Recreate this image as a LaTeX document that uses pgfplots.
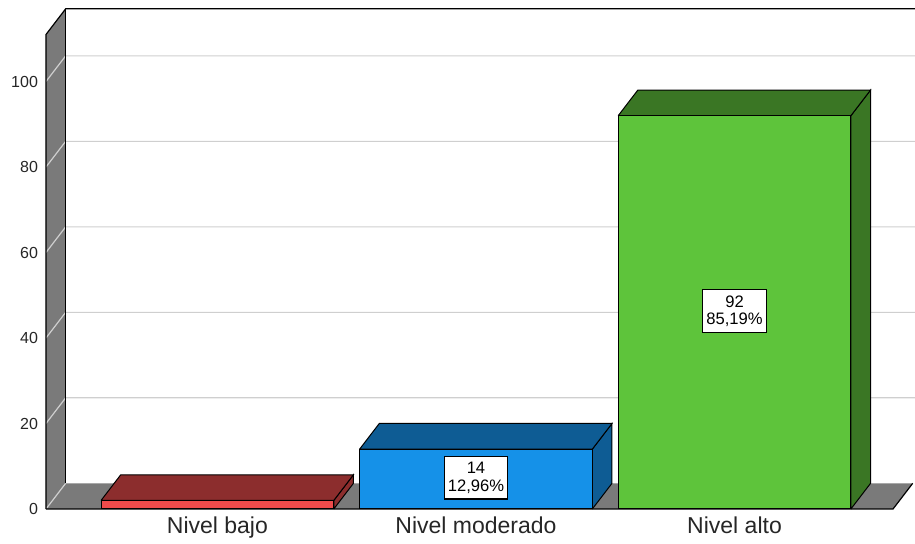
\documentclass[border=0pt]{standalone}
\usepackage{fontspec}
\setmainfont{Liberation Sans}
\usepackage{pgfplots}
\pgfplotsset{compat=1.18}
\definecolor{wallgray}{HTML}{7A7A7A}
\definecolor{gridc}{HTML}{CFCFCF}
\definecolor{redF}{HTML}{EF4B4B}
\definecolor{redD}{HTML}{8C2D2D}
\definecolor{blueF}{HTML}{1591E8}
\definecolor{blueD}{HTML}{0E5C94}
\definecolor{greenF}{HTML}{5EC43B}
\definecolor{greenD}{HTML}{3A7624}
\begin{document}
\begin{tikzpicture}
\begin{axis}[
  scale only axis, width=434.5pt, height=250.5pt,
  xmin=-0.663, xmax=2.698, ymin=0, ymax=117.2,
  clip=false,
  axis line style={draw=none},
  major tick length=0pt,
  xtick={0,1,2}, xticklabels={Nivel bajo, Nivel moderado, Nivel alto},
  ytick={0,20,40,60,80,100},
  /pgf/number format/assume math mode=true,
  yticklabel style={font=\fontsize{8}{9}\selectfont, text=black!85, xshift=-0.5pt},
  xticklabel style={font=\fontsize{11.5}{13}\selectfont, text=black!85, yshift=-0.5pt},
]
\coordinate (O) at (axis cs:-0.663,0);
% left wall and floor
\addplot[fill=wallgray, draw=none] coordinates {(-0.663,0) (-0.663,111) (-0.587,117) (-0.587,6)};
\addplot[fill=wallgray, draw=none] coordinates {(-0.663,0) (2.613,0) (2.689,6) (-0.587,6)};
% grid lines
\addplot[gridc, line width=0.6pt] coordinates {(-0.663,0) (-0.587,6)};
\addplot[gridc, line width=0.6pt] coordinates {(-0.663,20) (-0.587,26) (2.698,26)};
\addplot[gridc, line width=0.6pt] coordinates {(-0.663,40) (-0.587,46) (2.698,46)};
\addplot[gridc, line width=0.6pt] coordinates {(-0.663,60) (-0.587,66) (2.698,66)};
\addplot[gridc, line width=0.6pt] coordinates {(-0.663,80) (-0.587,86) (2.698,86)};
\addplot[gridc, line width=0.6pt] coordinates {(-0.663,100) (-0.587,106) (2.698,106)};
% wall edges
\addplot[black, line width=0.6pt] coordinates {(-0.663,0) (-0.663,111) (-0.587,117) (2.698,117)};
\addplot[black, line width=0.6pt] coordinates {(-0.587,6) (-0.587,117)};
\addplot[black, line width=0.6pt] coordinates {(-0.663,0) (2.613,0) (2.689,6)};
% Nivel bajo (2)
\addplot[fill=redD, draw=black, line width=0.5pt] coordinates {(0.45,0) (0.526,6) (0.526,8) (0.45,2) (0.45,0)};
\addplot[fill=redD, draw=black, line width=0.5pt] coordinates {(-0.45,2) (0.45,2) (0.526,8) (-0.374,8) (-0.45,2)};
\addplot[ybar, bar width=0.9, bar shift=0pt, fill=redF, draw=black, line width=0.5pt] coordinates {(0,2)};
% Nivel moderado (14)
\addplot[fill=blueD, draw=black, line width=0.5pt] coordinates {(1.45,0) (1.526,6) (1.526,20) (1.45,14) (1.45,0)};
\addplot[fill=blueD, draw=black, line width=0.5pt] coordinates {(0.55,14) (1.45,14) (1.526,20) (0.626,20) (0.55,14)};
\addplot[ybar, bar width=0.9, bar shift=0pt, fill=blueF, draw=black, line width=0.5pt] coordinates {(1,14)};
% Nivel alto (92)
\addplot[fill=greenD, draw=black, line width=0.5pt] coordinates {(2.45,0) (2.526,6) (2.526,98) (2.45,92) (2.45,0)};
\addplot[fill=greenD, draw=black, line width=0.5pt] coordinates {(1.55,92) (2.45,92) (2.526,98) (1.626,98) (1.55,92)};
\addplot[ybar, bar width=0.9, bar shift=0pt, fill=greenF, draw=black, line width=0.5pt] coordinates {(2,92)};
% labels
\node[fill=white, draw=black, line width=0.6pt, align=center, inner xsep=1.8pt, inner ysep=2.8pt, font=\fontsize{8.3}{8.8}\selectfont] at (axis cs:1,7.3) {14\\12,96\%};
\node[fill=white, draw=black, line width=0.6pt, align=center, inner xsep=1.8pt, inner ysep=2.8pt, font=\fontsize{8.3}{8.8}\selectfont] at (axis cs:2,46.3) {92\\85,19\%};
\end{axis}
\pgfresetboundingbox
\path[use as bounding box] ([shift={(-23pt,-17.5pt)}]O) rectangle ([shift={(434.5pt,254.5pt)}]O);
\end{tikzpicture}
\end{document}
